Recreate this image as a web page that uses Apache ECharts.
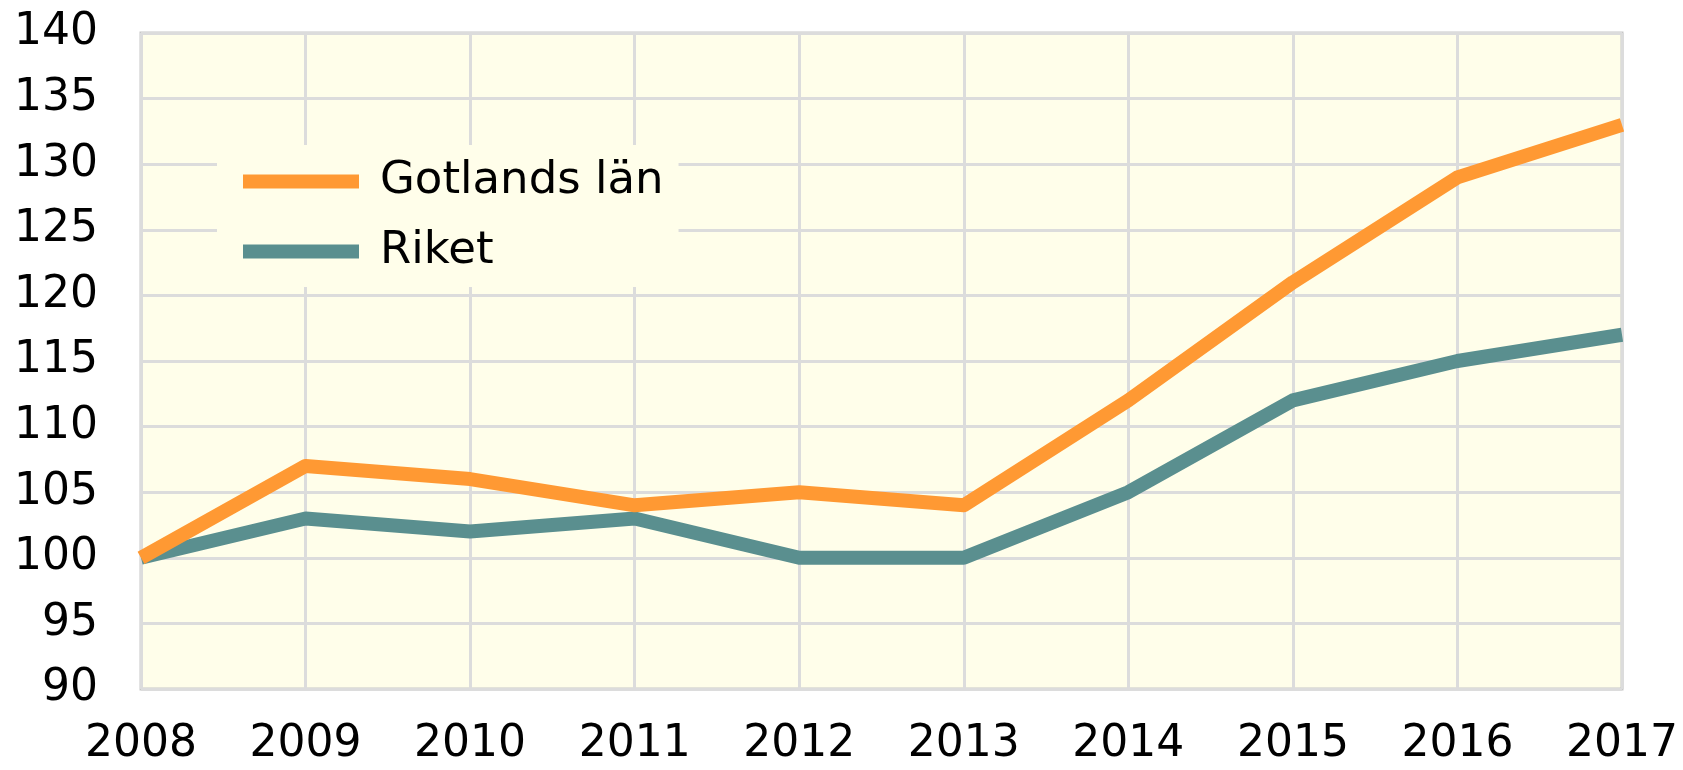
<!DOCTYPE html>
<html>
<head>
<meta charset="utf-8">
<script src="https://cdn.jsdelivr.net/npm/echarts@6/dist/echarts.min.js"></script>
<style>
html,body{margin:0;padding:0;background:#fff;}
#chart{width:1683px;height:770px;}
</style>
</head>
<body>
<div id="chart"></div>
<script>
const years = ['2008','2009','2010','2011','2012','2013','2014','2015','2016','2017'];
const gotland = [100,107,106,104,105,104,112,121,129,133];
const riket = [100,103,102,103,100,100,105,112,115,117];
const seriesNames = ['Gotlands län','Riket'];
const seriesColors = ['#FF9933','#5A8F8F'];

const chart = echarts.init(document.getElementById('chart'), null, {renderer:'canvas'});
const font = 'DejaVu Sans';
chart.setOption({
  animation:false,
  backgroundColor:'#ffffff',
  grid:{left:141,right:61,top:33,bottom:81,show:true,backgroundColor:'#FFFEEA',borderColor:'#C8C8C8',borderWidth:3,containLabel:false},
  legend:{
    left:217, top:145, orient:'vertical',
    padding:[14,15,13,26],
    backgroundColor:'#FFFEEA',
    itemWidth:116, itemHeight:14, itemGap:25,
    icon:'rect',
    textStyle:{fontFamily:font,fontSize:45,color:'#000',lineHeight:45,padding:[0,0,0,16]},
    data:seriesNames
  },
  xAxis:{
    type:'category', data:years, boundaryGap:false,
    axisLine:{show:false}, axisTick:{show:false},
    axisLabel:{fontFamily:font,fontSize:44,color:'#000',margin:34,interval:0},
    splitLine:{show:true,lineStyle:{color:'#DCDCDC',width:3}}
  },
  yAxis:{
    type:'value', min:90, max:140, interval:5,
    axisLine:{show:false}, axisTick:{show:false},
    axisLabel:{fontFamily:font,fontSize:44,color:'#000',margin:43},
    splitLine:{show:true,lineStyle:{color:'#DCDCDC',width:3}}
  },
  series:[
    {name:seriesNames[0],type:'line',data:gotland,showSymbol:false,symbol:'none',color:seriesColors[0],lineStyle:{width:14,color:seriesColors[0],join:'round'},z:3},
    {name:seriesNames[1],type:'line',data:riket,showSymbol:false,symbol:'none',color:seriesColors[1],lineStyle:{width:14,color:seriesColors[1],join:'round'},z:2}
  ]
});
</script>
</body>
</html>
